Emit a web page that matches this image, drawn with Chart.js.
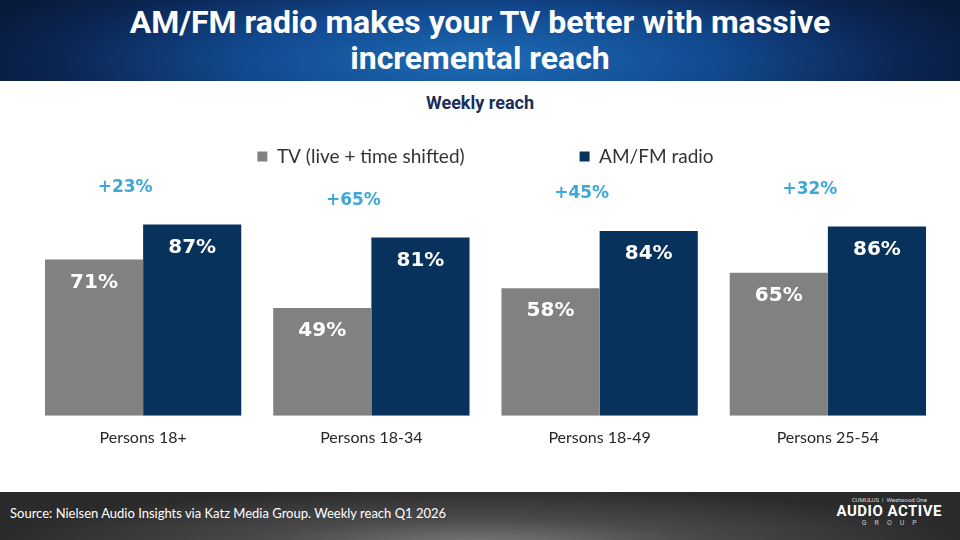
<!DOCTYPE html>
<html>
<head>
<meta charset="utf-8">
<script src="https://cdn.jsdelivr.net/npm/chart.js@4.4.1/dist/chart.umd.min.js"></script>
<style>
  body { margin: 0; width: 960px; height: 540px; position: relative; overflow: hidden; background: #fff; font-family: Lato, sans-serif; }
  #head {
    position: absolute; left: 0; top: 0; width: 960px; height: 81px;
    background: radial-gradient(ellipse 55% 140% at 50% 75%, #1c6cb6 0%, #12498f 45%, #0b2552 80%, #081a3a 100%);
    color: #fff; text-align: center; font: bold 32px Roboto, sans-serif; line-height: 36px;
    padding-top: 4px; box-sizing: border-box;
  }
  #sub { position: absolute; left: 0; top: 92px; width: 960px; text-align: center; font: bold 18px Roboto, sans-serif; color: #1b2f5c; }
  #wrap { position: absolute; left: 0; top: 30px; width: 960px; height: 433px; }
  #foot {
    position: absolute; left: 0; top: 492px; width: 960px; height: 48px;
    background: radial-gradient(ellipse 50% 120% at 50% 110%, #7a7a7a 0%, #4a4a4a 45%, #2b2b2b 100%);
  }
  #src { position: absolute; left: 10px; top: 13px; color: #fff; font: 13px Lato, sans-serif; }
  #logo { position: absolute; right: 18px; top: 4px; color: #fff; text-align: center; }
  #logo .top { font: 6px Roboto, sans-serif; color: #ddd; }
  #logo .big { font: bold 15px Roboto, sans-serif; letter-spacing: 0.5px; line-height: 16px; }
  #logo .grp { font: 7px Roboto, sans-serif; letter-spacing: 8px; color: #ccc; margin-right: -8px; }
</style>
</head>
<body>
<div id="head">AM/FM radio makes your TV better with massive<br>incremental reach</div>
<div id="sub">Weekly reach</div>
<div id="wrap"><canvas id="chart"></canvas></div>
<div id="foot">
  <div id="src">Source: Nielsen Audio Insights via Katz Media Group. Weekly reach Q1 2026</div>
  <div id="logo">
    <div class="top">CUMULUS &nbsp;|&nbsp; Westwood One</div>
    <div class="big">AUDIO ACTIVE</div>
    <div class="grp">GROUP</div>
  </div>
</div>
<script>
// categorias y valores
let categories = ["Persons 18+", "Persons 18-34", "Persons 18-49", "Persons 25-54"];
let tvReach = [71, 49, 58, 65];
let radioReach = [87, 81, 84, 86];
let seriesNames = ["TV (live + time shifted)", "AM/FM radio"];

// incremento de radio sobre TV
function liftText(i) {
  let lift = Math.round((radioReach[i] / tvReach[i] - 1) * 100);
  return "+" + lift + "%";
}

// etiquetas blancas dentro de las barras + etiquetas azules arriba
const barLabels = {
  id: "barLabels",
  afterDatasetsDraw(chart) {
    let ctx = chart.ctx;
    ctx.save();
    ctx.textAlign = "center";
    ctx.textBaseline = "middle";
    ctx.font = "bold 20px 'DejaVu Sans'";
    ctx.fillStyle = "#ffffff";
    chart.data.datasets.forEach((ds, d) => {
      chart.getDatasetMeta(d).data.forEach((bar, i) => {
        ctx.fillText(ds.data[i] + "%", bar.x, bar.y + 23);
      });
    });
    ctx.font = "bold 17px 'DejaVu Sans'";
    ctx.fillStyle = "#3fa7d6";
    let radioMeta = chart.getDatasetMeta(1);
    let xScale = chart.scales.x;
    categories.forEach((c, i) => {
      let bar = radioMeta.data[i];
      ctx.fillText(liftText(i), xScale.getPixelForValue(i) - 18, bar.y - 37);
    });
    ctx.restore();
  }
};

new Chart(document.getElementById("chart"), {
  type: "bar",
  data: {
    labels: categories,
    datasets: [
      { label: seriesNames[0], data: tvReach, backgroundColor: "#818181", barPercentage: 1, categoryPercentage: 0.86 },
      { label: seriesNames[1], data: radioReach, backgroundColor: "#07325b", barPercentage: 1, categoryPercentage: 0.86 }
    ]
  },
  options: {
    responsive: true,
    maintainAspectRatio: false,
    animation: false,
    layout: { padding: { left: 29, right: 18, top: 2, bottom: 4 } },
    plugins: {
      tooltip: { enabled: false },
      legend: {
        position: "top",
        labels: {
          boxWidth: 10,
          boxHeight: 10,
          padding: 115,
          color: "#333333",
          font: { family: "Lato", size: 19 }
        }
      }
    },
    scales: {
      x: {
        grid: { display: false, drawTicks: false },
        border: { display: false },
        ticks: { padding: 12, color: "#262626", font: { family: "Lato", size: 16 } }
      },
      y: { display: false, min: 0, max: 109 }
    }
  },
  plugins: [barLabels]
});
</script>
</body>
</html>
